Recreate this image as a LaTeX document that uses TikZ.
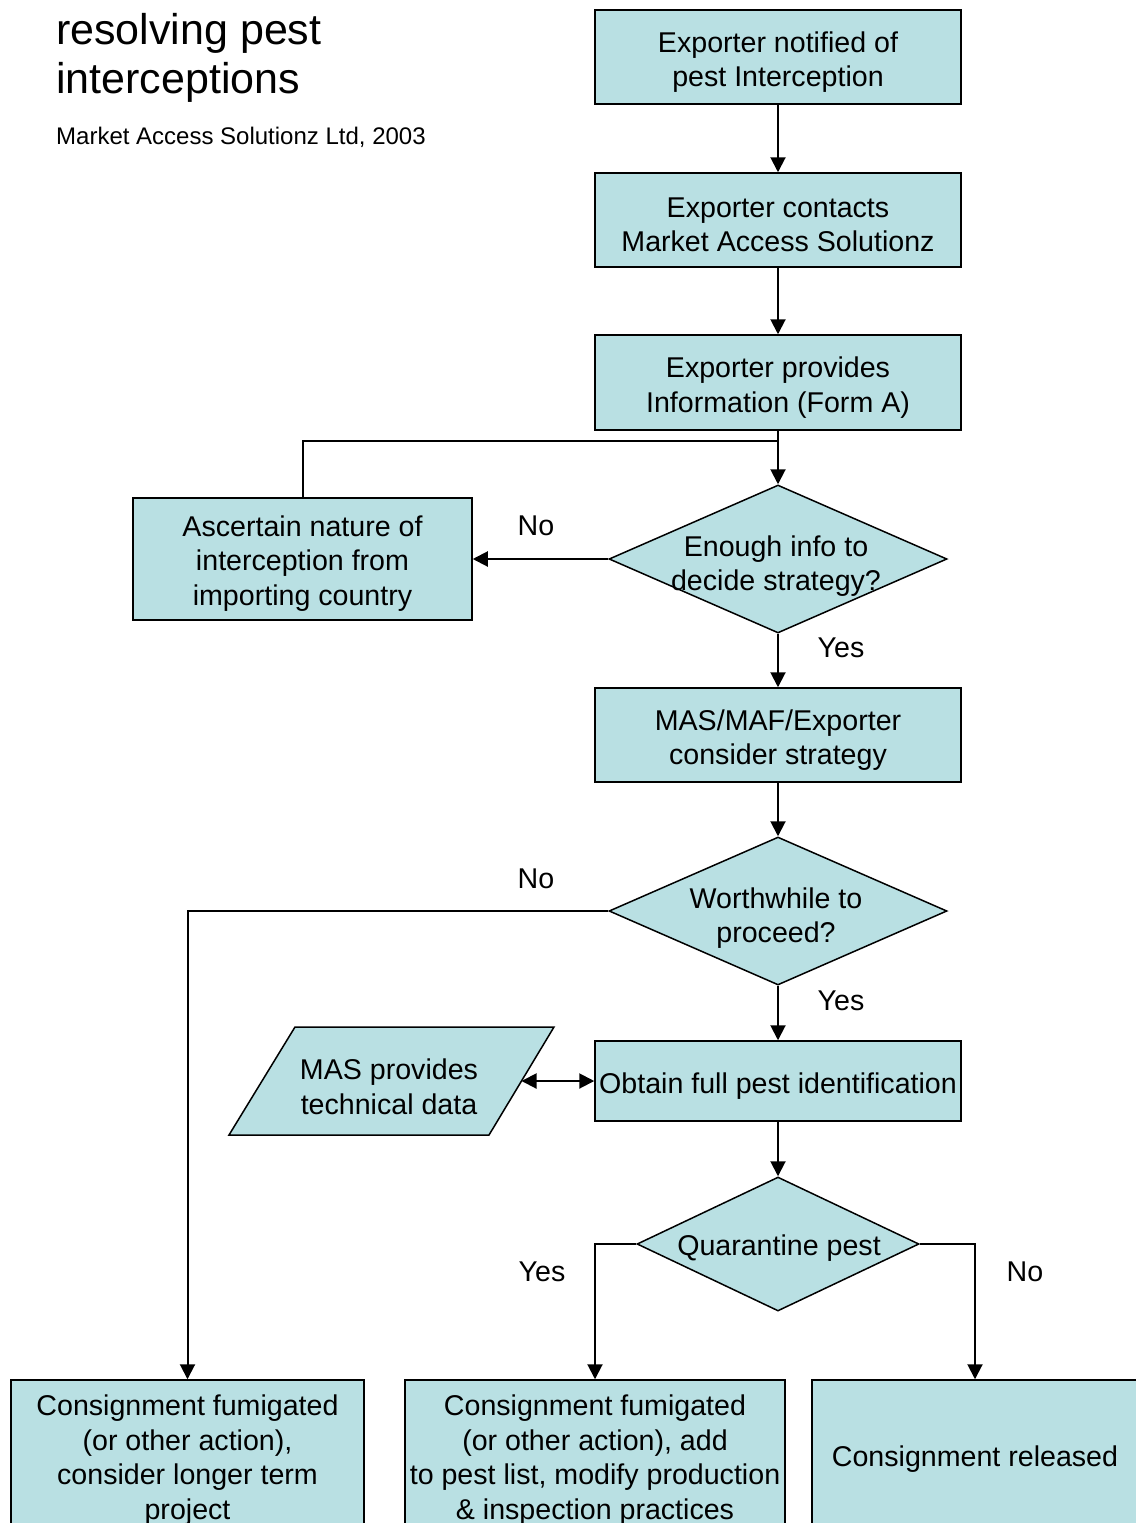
\documentclass[tikz,border=0pt]{standalone}
\usepackage{fontspec}
\setmainfont{Liberation Sans}
\usetikzlibrary{shapes.geometric,arrows.meta}
\definecolor{boxfill}{RGB}{185,224,227}
\begin{document}
\begin{tikzpicture}[x=1pt,y=-1pt,
 box/.style={draw=black, line width=1.5pt, fill=boxfill, rectangle, inner sep=0pt},
 dec/.style={draw=black, line width=1.5pt, fill=boxfill, diamond, inner sep=0pt},
 txt/.style={align=center, inner sep=0pt, font=\fontsize{28.6}{34.5}\selectfont},
 lbl/.style={inner sep=0pt, font=\fontsize{28.6}{34.5}\selectfont},
 conn/.style={line width=2pt, -{Triangle[length=15pt,width=15pt]}},
 conn2/.style={line width=2pt, {Triangle[length=15pt,width=15pt]}-{Triangle[length=15pt,width=15pt]}},
 plainline/.style={line width=2pt}]
\fill[white] (0,0) rectangle (1135,1523);
\useasboundingbox (0,0) rectangle (1135,1523);

% title
\node[anchor=base west, inner sep=0pt, font=\fontsize{43}{48}\selectfont] (t1) at (56,44) {resolving pest};
\node[anchor=base west, inner sep=0pt, font=\fontsize{43}{48}\selectfont] (t2) at (56,93) {interceptions};
\node[anchor=base west, inner sep=0pt, font=\fontsize{24}{28}\selectfont] (sub) at (56,144) {Market Access Solutionz Ltd, 2003};

% boxes
\node[box, minimum width=366pt, minimum height=94pt] (b1) at (778,57) {};
\node[txt] (b1t) at ([yshift=-5pt]b1.center) {Exporter notified of\\pest Interception};
\node[box, minimum width=366pt, minimum height=94pt] (b2) at (778,220) {};
\node[txt] (b2t) at ([yshift=-5pt]b2.center) {Exporter contacts\\Market Access Solutionz};
\node[box, minimum width=366pt, minimum height=95pt] (b3) at (778,382.5) {};
\node[txt] (b3t) at ([yshift=-5pt]b3.center) {Exporter provides\\Information (Form A)};
\node[dec, minimum width=338pt, minimum height=148pt] (d1) at (778,559) {};
\node[txt] (d1t) at (776,566) {Enough info to\\decide strategy?};
\node[box, minimum width=339pt, minimum height=122pt] (asc) at (302.5,559) {};
\node[txt] (asct) at ([yshift=-4.5pt]asc.center) {Ascertain nature of\\interception from\\importing country};
\node[box, minimum width=366pt, minimum height=94pt] (b6) at (778,735) {};
\node[txt] (b6t) at ([yshift=-5pt]b6.center) {MAS/MAF/Exporter\\consider strategy};
\node[dec, minimum width=338pt, minimum height=148pt] (d2) at (778,911) {};
\node[txt] (d2t) at (776,918) {Worthwhile to\\proceed?};
\node[box, minimum width=366pt, minimum height=80pt] (obt) at (778,1081) {};
\node[txt] (obtt) at ([yshift=-5pt]obt.center) {Obtain full pest identification};
\draw[line width=1.5pt, fill=boxfill] (295,1027) -- (554,1027) -- (489,1135) -- (229,1135) -- cycle;
\node[txt] (mas) at (389,1087) {MAS provides\\technical data};
\coordinate (masR) at (521.5,1081);
\node[dec, minimum width=282pt, minimum height=134pt] (d3) at (778,1244) {};
\node[txt] (d3t) at (779,1248) {Quarantine pest};
\node[box, minimum width=353pt, minimum height=152pt] (b11) at (187.5,1456) {};
\node[txt] (b11t) at ([yshift=-4pt]b11.center) {Consignment fumigated\\(or other action),\\consider longer term\\project};
\node[box, minimum width=380pt, minimum height=152pt] (b12) at (595,1456) {};
\node[txt] (b12t) at ([yshift=-4pt]b12.center) {Consignment fumigated\\(or other action), add\\to pest list, modify production\\\& inspection practices};
\node[box, minimum width=326pt, minimum height=152pt] (b13) at (975,1456) {};
\node[txt] (b13t) at ([yshift=-3pt]b13.center) {Consignment released};

% connectors
\coordinate (j1) at (778,441);
\draw[conn] (b1.south) -- (b2.north);
\draw[conn] (b2.south) -- (b3.north);
\draw[conn] (b3.south) -- (d1.north);
\draw[plainline] (asc.north) |- (j1);
\draw[conn] (d1.west) -- (asc.east);
\draw[conn] (d1.south) -- (b6.north);
\draw[conn] (b6.south) -- (d2.north);
\draw[conn] (d2.west) -| (b11.north);
\draw[conn] (d2.south) -- (obt.north);
\draw[conn2] (masR) -- (obt.west);
\draw[conn] (obt.south) -- (d3.north);
\draw[conn] (d3.west) -| (b12.north);
\draw[conn] (d3.east) -| (b13.north);

% labels
\node[lbl] (l1) at (536,526) {No};
\node[lbl] (l2) at (841,648) {Yes};
\node[lbl] (l3) at (536,879) {No};
\node[lbl] (l4) at (841,1001) {Yes};
\node[lbl] (l5) at (542,1272) {Yes};
\node[lbl] (l6) at (1025,1272) {No};
\end{tikzpicture}
\end{document}
